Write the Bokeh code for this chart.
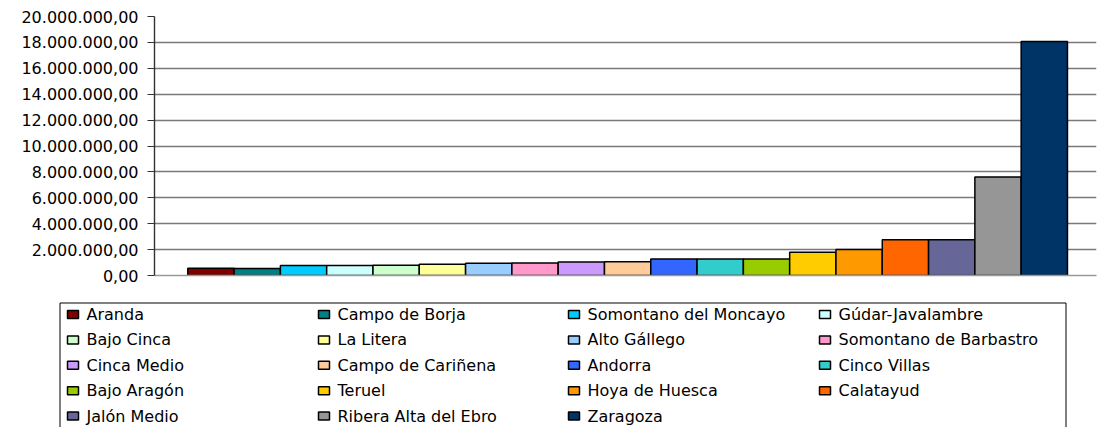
from bokeh.plotting import figure
from bokeh.models import Range1d, FixedTicker, CustomJSTickFormatter
from bokeh.core.properties import value
from bokeh.embed import file_html
from bokeh.resources import INLINE

# ---- data ----
comarcas = [
    "Aranda", "Campo de Borja", "Somontano del Moncayo", "Gúdar-Javalambre",
    "Bajo Cinca", "La Litera", "Alto Gállego", "Somontano de Barbastro",
    "Cinca Medio", "Campo de Cariñena", "Andorra", "Cinco Villas",
    "Bajo Aragón", "Teruel", "Hoya de Huesca", "Calatayud",
    "Jalón Medio", "Ribera Alta del Ebro", "Zaragoza",
]
valores = [
    560000, 550000, 780000, 780000,
    790000, 870000, 950000, 960000,
    1050000, 1060000, 1280000, 1270000,
    1270000, 1800000, 2000000, 2760000,
    2770000, 7600000, 18070000,
]
colores = [
    "#800000", "#008080", "#00CCFF", "#CCFFFF",
    "#CCFFCC", "#FFFF99", "#99CCFF", "#FF99CC",
    "#CC99FF", "#FFCC99", "#3366FF", "#33CCCC",
    "#99CC00", "#FFCC00", "#FF9900", "#FF6600",
    "#666699", "#969696", "#003366",
]
y_ticks = [0, 2e6, 4e6, 6e6, 8e6, 10e6, 12e6, 14e6, 16e6, 18e6, 20e6]

FONT = "DejaVu Sans"
FS = "16px"

# ---- chart ----
W = 1098
H1 = 298
H2 = 129
p = figure(width=W, height=H1, output_backend="svg", toolbar_location=None,
           x_range=Range1d(-1.219, 19.127), y_range=Range1d(0, 20e6),
           min_border_left=154, min_border_right=2, min_border_top=16,
           min_border_bottom=23)
p.outline_line_color = None
p.background_fill_color = "white"
p.border_fill_color = "white"

idx = list(range(len(comarcas)))
p.vbar(x=idx, top=valores, width=1.0, bottom=0, fill_color=colores,
       line_color="black", line_width=1.5)

p.xgrid.grid_line_color = None
p.ygrid.ticker = FixedTicker(ticks=y_ticks)
p.ygrid.grid_line_color = "#7a7a7a"
p.ygrid.grid_line_width = 1.4

p.yaxis.ticker = FixedTicker(ticks=y_ticks)
p.yaxis.formatter = CustomJSTickFormatter(code="""
    const s = tick.toFixed(2);
    const parts = s.split('.');
    return parts[0].replace(/\\B(?=(\\d{3})+(?!\\d))/g, '.') + ',' + parts[1];
""")
p.yaxis.major_label_text_font = FONT
p.yaxis.major_label_text_font_size = FS
p.yaxis.major_label_text_color = "black"
p.yaxis.major_tick_out = 7
p.yaxis.major_tick_in = 0
p.yaxis.minor_tick_line_color = None
p.yaxis.major_label_standoff = 9
p.yaxis.axis_line_color = "#333333"
p.yaxis.axis_line_width = 1.4
p.yaxis.major_tick_line_color = "#333333"
p.yaxis.major_tick_line_width = 1.2

p.xaxis.ticker = FixedTicker(ticks=[])
p.xaxis.axis_line_color = "#9a9a9a"
p.xaxis.axis_line_width = 1.6
p.xaxis.major_tick_line_color = None
p.xaxis.minor_tick_line_color = None
p.xaxis.major_label_text_font_size = "0px"

# ---- legend (separate root below) ----
lg = figure(width=W, height=H2, output_backend="svg", toolbar_location=None,
            x_range=Range1d(0, W), y_range=Range1d(H2, 0),
            x_axis_type=None, y_axis_type=None,
            min_border=0, min_border_left=0, min_border_right=0,
            min_border_top=0, min_border_bottom=0)
lg.outline_line_color = None
lg.xgrid.grid_line_color = None
lg.ygrid.grid_line_color = None

lg.quad(left=[59.5], right=[1065.5], top=[4.5], bottom=[150],
        fill_color=None, line_color="black", line_width=1)

col_x = [86, 337, 587, 838]
row0, row_dy = 16, 25.4
tx, ty, sx_l, sx_r, sy_t, sy_b = [], [], [], [], [], []
for i, name in enumerate(comarcas):
    c = i % 4
    r = i // 4
    x = col_x[c]
    y = row0 + r * row_dy
    tx.append(x)
    ty.append(y)
    sx_l.append(x - 19)
    sx_r.append(x - 8)
    sy_t.append(y - 4)
    sy_b.append(y + 4)

lg.quad(left=sx_l, right=sx_r, top=sy_t, bottom=sy_b, fill_color=colores,
        line_color="black", line_width=1.5)
lg.text(x=tx, y=ty, text=comarcas, text_font=value(FONT),
        text_font_size=FS, text_baseline="middle", text_align="left",
        text_color="black")

open("out.html", "w").write(file_html([p, lg], INLINE))
